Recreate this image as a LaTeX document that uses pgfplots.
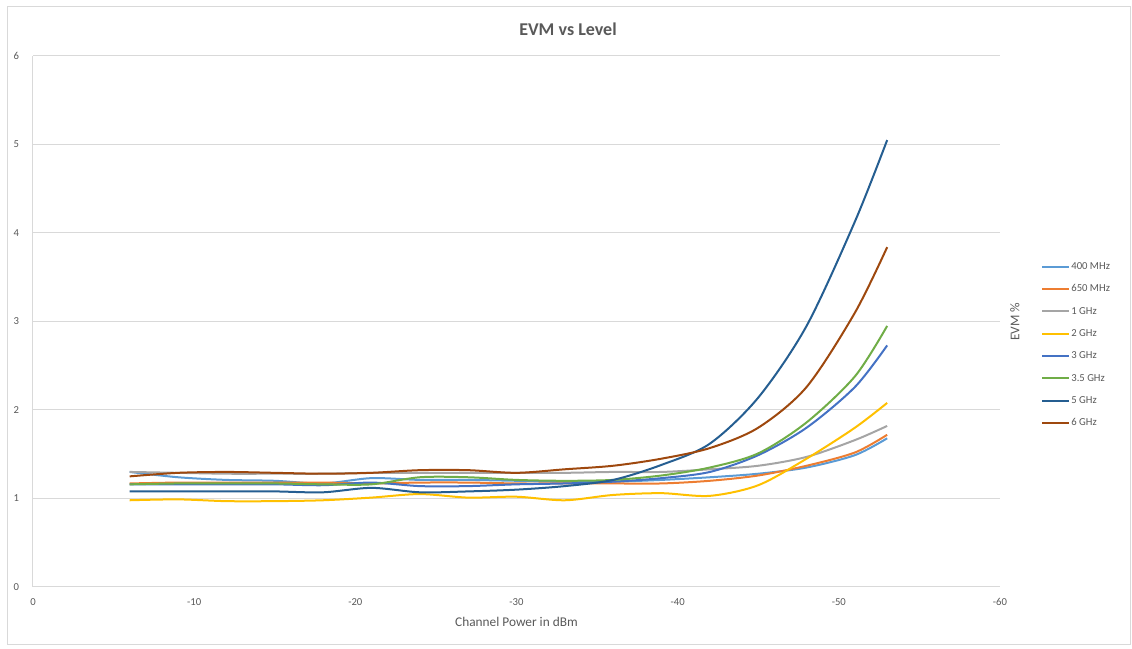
\documentclass[border=0pt]{standalone}
\usepackage{pgfplots}
\pgfplotsset{compat=1.18}
\usepackage{pgfplotstable}
\usepackage{fontspec}
\setmainfont{Carlito}
\definecolor{cA}{HTML}{5B9BD5}
\definecolor{cB}{HTML}{ED7D31}
\definecolor{cC}{HTML}{A5A5A5}
\definecolor{cD}{HTML}{FFC000}
\definecolor{cE}{HTML}{4472C4}
\definecolor{cF}{HTML}{70AD47}
\definecolor{cG}{HTML}{255E91}
\definecolor{cH}{HTML}{9E480E}
\definecolor{txt}{HTML}{595959}
\definecolor{grid}{HTML}{D9D9D9}
\pgfplotstableread{
x    a    b    c    d    e    f    g    h
-6   1.30 1.17 1.30 0.98 1.16 1.16 1.08 1.25
-9   1.24 1.18 1.29 0.99 1.16 1.17 1.08 1.29
-12  1.21 1.18 1.28 0.97 1.16 1.17 1.08 1.30
-15  1.20 1.18 1.28 0.97 1.16 1.17 1.08 1.29
-18  1.17 1.18 1.28 0.98 1.15 1.16 1.07 1.28
-21  1.23 1.17 1.29 1.01 1.18 1.16 1.12 1.29
-24  1.21 1.18 1.29 1.05 1.14 1.24 1.07 1.32
-27  1.21 1.18 1.29 1.01 1.14 1.24 1.08 1.32
-30  1.20 1.17 1.29 1.02 1.16 1.21 1.10 1.29
-33  1.19 1.17 1.29 0.98 1.17 1.20 1.14 1.33
-36  1.19 1.17 1.30 1.04 1.19 1.21 1.21 1.37
-39  1.21 1.17 1.30 1.06 1.23 1.26 1.38 1.45
-42  1.24 1.20 1.33 1.03 1.30 1.35 1.62 1.57
-45  1.28 1.26 1.37 1.15 1.49 1.51 2.14 1.80
-48  1.35 1.37 1.47 1.45 1.80 1.86 2.95 2.26
-51  1.49 1.52 1.66 1.80 2.26 2.38 4.13 3.10
-53  1.68 1.72 1.82 2.08 2.73 2.95 5.05 3.84
}\datatable
\begin{document}
\begin{tikzpicture}
\useasboundingbox (0pt,0pt) rectangle (849pt,486.75pt);
\draw[grid, line width=0.75pt] (5.25pt,3pt) rectangle (847.5pt,481.5pt);
\node[font=\bfseries\fontsize{13.5}{15}\selectfont, text=txt] at (426pt,465pt) {EVM vs Level};
\coordinate (O) at (24.75pt,46.5pt);
\begin{axis}[
  at={(O)}, anchor=south west,
  scale only axis, width=725.25pt, height=398.25pt,
  xmin=-60, xmax=0, ymin=0, ymax=6,
  x dir=reverse,
  xtick={0,-10,-20,-30,-40,-50,-60},
  ytick={0,1,2,3,4,5,6},
  axis x line*=bottom, axis y line*=left,
  axis line style={draw=grid, line width=0.75pt, -},
  ymajorgrids, grid style={draw=grid, line width=0.75pt},
  major tick length=0pt,
  tick label style={font=\fontsize{8}{10}\selectfont, text=txt},
  /pgf/number format/assume math mode=true,
  xticklabel style={yshift=-5pt},
  yticklabel style={xshift=-7pt},
  xlabel={Channel Power in dBm},
  xlabel style={font=\fontsize{10}{12}\selectfont, text=txt, at={(axis description cs:0.5,0)}, anchor=north, yshift=-19pt},
  ylabel={EVM \%},
  every axis y label/.style={at={(axis description cs:1.0155,0.5)}, rotate=90, anchor=center, font=\fontsize{10}{12}\selectfont, text=txt},
  legend style={at={(axis description cs:1.0425,0.615)}, anchor=north west, draw=none, fill=none,
     font=\fontsize{8}{10}\selectfont, text=txt, row sep=7.65pt, inner sep=0pt,
     nodes={inner sep=1pt, text height=5.6pt, text depth=1.5pt}},
  legend cell align=left,
  legend image code/.code={\draw[#1] (0pt,0pt) -- (20pt,0pt);},
  every axis plot/.append style={line width=1.5pt, smooth, no markers},
]
\addplot[cA] table[x=x,y=a] {\datatable}; \addlegendentry{400 MHz}
\addplot[cB] table[x=x,y=b] {\datatable}; \addlegendentry{650 MHz}
\addplot[cC] table[x=x,y=c] {\datatable}; \addlegendentry{1 GHz}
\addplot[cD] table[x=x,y=d] {\datatable}; \addlegendentry{2 GHz}
\addplot[cE] table[x=x,y=e] {\datatable}; \addlegendentry{3 GHz}
\addplot[cF] table[x=x,y=f] {\datatable}; \addlegendentry{3.5 GHz}
\addplot[cG] table[x=x,y=g] {\datatable}; \addlegendentry{5 GHz}
\addplot[cH] table[x=x,y=h] {\datatable}; \addlegendentry{6 GHz}
\end{axis}
\end{tikzpicture}
\end{document}
